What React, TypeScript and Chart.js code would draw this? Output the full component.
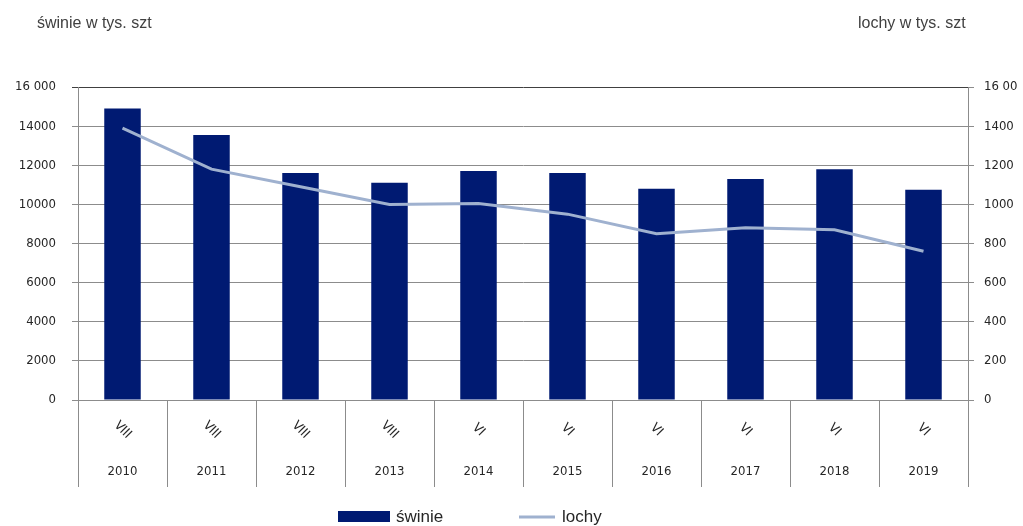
import React, { useEffect, useRef } from "react";
import { Chart, registerables } from "chart.js";
Chart.register(...registerables);

const years = ["2010","2011","2012","2013","2014","2015","2016","2017","2018","2019"];
const months = ["VIII","VIII","VIII","VIII","VI","VI","VI","VI","VI","VI"];
const swinie = [14900, 13550, 11600, 11100, 11700, 11600, 10800, 11300, 11800, 10750];
const lochy = [1390, 1180, 1090, 1000, 1005, 950, 850, 880, 870, 760];
const leftTicks: Record<number, string> = {16000:"16 000",14000:"14000",12000:"12000",10000:"10000",8000:"8000",6000:"6000",4000:"4000",2000:"2000",0:"0"};
const rightTicks: Record<number, string> = {1600:"16 00",1400:"1400",1200:"1200",1000:"1000",800:"800",600:"600",400:"400",200:"200",0:"0"};

const FONT = "'DejaVu Sans Condensed', 'Liberation Sans Narrow', 'Liberation Sans', Arial, sans-serif";
const TFONT = "'Liberation Sans', Arial, sans-serif";
const W = 1050, H = 526;

export default function App() {
  const ref = useRef<HTMLCanvasElement>(null);
  useEffect(() => {
    document.body.style.margin = "0";
    document.body.style.overflow = "hidden";
    const deco = {
      id: "deco",
      afterDraw(c: any) {
        const ctx = c.ctx, x = c.scales.x, a = c.chartArea;
        ctx.save();
        ctx.strokeStyle = "#8c8c8c"; ctx.lineWidth = 1;
        const step = (a.right - a.left) / years.length;
        ctx.beginPath();
        for (let i = 0; i <= years.length; i++) {
          const px = Math.round(a.left + i * step) + 0.5;
          ctx.moveTo(px, a.bottom); ctx.lineTo(px, 487);
        }
        ctx.moveTo(a.left, a.bottom + 0.5); ctx.lineTo(a.right, a.bottom + 0.5);
        ctx.stroke();
        ctx.fillStyle = "#262626";
        ctx.font = `13px ${FONT}`; ctx.textAlign = "center"; ctx.textBaseline = "middle";
        years.forEach((y, i) => {
          const cx = x.getPixelForValue(i);
          ctx.fillText(y, cx, 472);
          ctx.save(); ctx.translate(cx, 430); ctx.rotate(Math.PI / 4);
          ctx.fillText(months[i], 0, 0); ctx.restore();
        });
        ctx.fillStyle = "#404040"; ctx.font = `16px ${TFONT}`; ctx.textAlign = "left";
        ctx.fillText("świnie w tys. szt", 37, 24);
        ctx.fillText("lochy w tys. szt", 858, 24);
        ctx.fillStyle = "#001a72"; ctx.fillRect(338, 511, 52, 11);
        ctx.strokeStyle = "#9fb1cf"; ctx.lineWidth = 3;
        ctx.beginPath(); ctx.moveTo(519, 517); ctx.lineTo(555, 517); ctx.stroke();
        ctx.fillStyle = "#262626"; ctx.font = `17px ${TFONT}`;
        ctx.fillText("świnie", 396, 517);
        ctx.fillText("lochy", 562, 517);
        ctx.restore();
      },
    };
    const chart = new Chart(ref.current!, {
      type: "bar",
      data: {
        labels: years,
        datasets: [
          { type: "line", label: "lochy", data: lochy, yAxisID: "y2", borderColor: "#9fb1cf", borderWidth: 3, pointRadius: 0, tension: 0, order: 0 },
          { type: "bar", label: "świnie", data: swinie, yAxisID: "y", backgroundColor: "#001a72", barPercentage: 0.41, categoryPercentage: 1, order: 1 },
        ],
      },
      options: {
        responsive: false, animation: false,
        layout: { padding: { top: 87, bottom: 126, left: 0, right: 0 } },
        plugins: { legend: { display: false }, tooltip: { enabled: false } },
        scales: {
          x: { ticks: { display: false }, grid: { display: false }, border: { display: false }, afterFit: (s: any) => { s.height = 0; } },
          y: {
            min: 0, max: 16000,
            ticks: { stepSize: 2000, color: "#262626", font: { family: FONT, size: 13 }, padding: 16, callback: (v: any) => leftTicks[v] ?? "" },
            grid: { color: (ctx: any) => ctx.tick && ctx.tick.value === 16000 ? "#404040" : "#8c8c8c", tickLength: 6, drawTicks: true },
            border: { color: "#8c8c8c" },
            afterFit: (s: any) => { s.width = 78; },
          },
          y2: {
            position: "right", min: 0, max: 1600,
            ticks: { stepSize: 200, color: "#262626", font: { family: FONT, size: 13 }, padding: 10, callback: (v: any) => rightTicks[v] ?? "" },
            grid: { drawOnChartArea: false, color: "#8c8c8c", tickLength: 6 },
            border: { color: "#8c8c8c" },
            afterFit: (s: any) => { s.width = W - 968; },
          },
        },
      },
      plugins: [deco],
    } as any);
    return () => chart.destroy();
  }, []);
  return <canvas ref={ref} width={W} height={H} style={{ display: "block", width: W, height: H }} />;
}
